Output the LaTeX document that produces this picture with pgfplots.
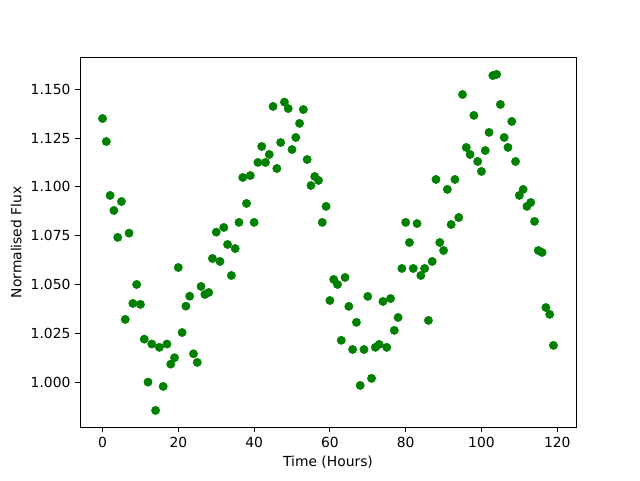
\documentclass[border=0pt]{standalone}
\usepackage{pgfplots}
\pgfplotsset{compat=1.18}
\usepackage{fontspec}
\setmainfont{DejaVu Sans}
\definecolor{mplgreen}{HTML}{008000}
\begin{document}
\begin{tikzpicture}
\useasboundingbox (-60pt,-39.6pt) rectangle (420pt,320.4pt);
\begin{axis}[
  at={(0,0)}, anchor=south west,
  scale only axis, width=372pt, height=277.2pt,
  xmin=-5.95, xmax=124.95, ymin=0.9769, ymax=1.1662,
  xtick={0,20,40,60,80,100,120},
  ytick={1.000,1.025,1.050,1.075,1.100,1.125,1.150},
  tick align=outside, tick pos=left, major tick length=3.65pt,
  every tick/.style={line width=0.6pt, black},
  axis line style={line width=0.6pt},
  /pgf/number format/assume math mode=true,
  yticklabel style={/pgf/number format/.cd, fixed, fixed zerofill, precision=3},
  xticklabel style={/pgf/number format/.cd, fixed, precision=0},
  ticklabel style={font=\fontsize{10.4}{12}\selectfont},
  label style={font=\fontsize{10.4}{12}\selectfont},
  xlabel={Time (Hours)}, ylabel={Normalised Flux},
  scaled y ticks=false,
]
\addplot[only marks, mark=*, mark size=3.1pt, color=mplgreen] coordinates {
(0,1.135) (1,1.1232) (2,1.0956) (3,1.0879) (4,1.0741) (5,1.0925) (6,1.0321) (7,1.0763) (8,1.0403) (9,1.050)
(10,1.0398) (11,1.022) (12,1.000) (13,1.0195) (14,0.9855) (15,1.0178) (16,0.9978) (17,1.0195) (18,1.0092) (19,1.0125)
(20,1.0587) (21,1.0254) (22,1.0389) (23,1.044) (24,1.0145) (25,1.0101) (26,1.049) (27,1.0449) (28,1.0459) (29,1.0633)
(30,1.0768) (31,1.0618) (32,1.0792) (33,1.0705) (34,1.0546) (35,1.0684) (36,1.0818) (37,1.1048) (38,1.0915) (39,1.1058)
(40,1.0818) (41,1.1125) (42,1.1207) (43,1.1125) (44,1.1166) (45,1.1412) (46,1.1094) (47,1.1227) (48,1.1434) (49,1.1401)
(50,1.1191) (51,1.1253) (52,1.1325) (53,1.1396) (54,1.114) (55,1.1007) (56,1.1053) (57,1.1033) (58,1.0818) (59,1.090)
(60,1.0418) (61,1.0526) (62,1.050) (63,1.0214) (64,1.0536) (65,1.0388) (66,1.0167) (67,1.0306) (68,0.9983) (69,1.0167)
(70,1.0439) (71,1.0019) (72,1.0178) (73,1.0193) (74,1.0413) (75,1.0178) (76,1.0428) (77,1.0265) (78,1.0331) (79,1.0582)
(80,1.0818) (81,1.0715) (82,1.0582) (83,1.0812) (84,1.0546) (85,1.0582) (86,1.0316) (87,1.0618) (88,1.1038) (89,1.0715)
(90,1.0674) (91,1.0987) (92,1.0807) (93,1.1038) (94,1.0843) (95,1.1473) (96,1.1202) (97,1.1166) (98,1.1366) (99,1.113)
(100,1.1079) (101,1.1186) (102,1.1279) (103,1.157) (104,1.1576) (105,1.1422) (106,1.1253) (107,1.1202) (108,1.1335) (109,1.113)
(110,1.0956) (111,1.0987) (112,1.09) (113,1.092) (114,1.0823) (115,1.0674) (116,1.0664) (117,1.0382) (118,1.0347) (119,1.0188)
};
\end{axis}
\end{tikzpicture}
\end{document}
